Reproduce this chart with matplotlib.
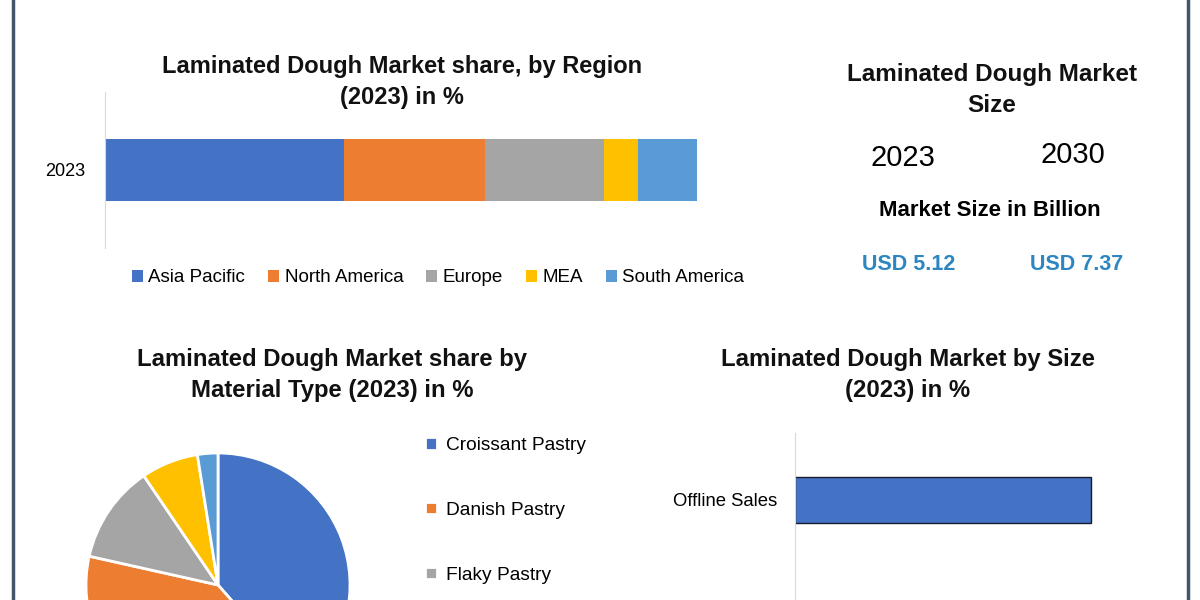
import matplotlib.pyplot as plt
from matplotlib.lines import Line2D

plt.rcParams['font.family'] = ['Liberation Sans', 'DejaVu Sans']

# region share (2023), %
regions = ['Asia Pacific', 'North America', 'Europe', 'MEA', 'South America']
region_share = [40.4, 23.8, 20.1, 5.7, 10.0]
region_colors = ['#4472C4', '#ED7D31', '#A5A5A5', '#FFC000', '#5B9BD5']

# material type share (2023), %
materials = ['Croissant Pastry', 'Danish Pastry', 'Flaky Pastry', 'Puff Pastry', 'Others']
material_share = [38.5, 40.0, 12.0, 7.0, 2.5]

# market by size (sales channel), %
channels = ['Online Sales', 'Offline Sales']
channel_share = [38, 62]

years = ['2023', '2030']
market_size = ['USD 5.12', 'USD 7.37']

W, H = 1200, 600


def px(x0, y0, x1, y1):
    return [x0 / W, 1 - y1 / H, (x1 - x0) / W, (y1 - y0) / H]


fig = plt.figure(figsize=(12, 6), dpi=100)
fig.patch.set_facecolor('white')

# frame lines left / right
fig.add_artist(Line2D([13 / W, 13 / W], [0, 1], color='#44546A', lw=2.5))
fig.add_artist(Line2D([1188 / W, 1188 / W], [0, 1], color='#44546A', lw=2.5))

title_kw = dict(ha='center', va='center', fontweight='bold', linespacing=1.45, color='#111111')

# ---- stacked bar by region ----
ax1 = fig.add_axes(px(105, 92, 756, 248))
left = 0
for name, val, c in zip(regions, region_share, region_colors):
    ax1.barh([0], [val], left=left, height=0.4, color=c, label=name)
    left += val
ax1.set_xlim(0, 110)
ax1.set_ylim(-0.5, 0.5)
ax1.set_yticks([0])
ax1.set_yticklabels(['2023'], fontsize=13)
ax1.tick_params(axis='y', length=0, pad=14)
ax1.set_xticks([])
for s in ['top', 'right', 'bottom']:
    ax1.spines[s].set_visible(False)
ax1.spines['left'].set_color('#d9d9d9')
ax1.legend(loc='center', bbox_to_anchor=(438 / W, 1 - 278 / H), bbox_transform=fig.transFigure,
           ncol=5, frameon=False, fontsize=13.5, handlelength=0.6, handleheight=0.6,
           handletextpad=0.3, columnspacing=1.2)
fig.text(402 / W, 1 - 82 / H, 'Laminated Dough Market share, by Region\n(2023) in %',
         fontsize=17, **title_kw)

# ---- market size panel ----
fig.text(992 / W, 1 - 90 / H, 'Laminated Dough Market\nSize', fontsize=17.5, **title_kw)
fig.text(903 / W, 1 - 158 / H, years[0], ha='center', va='center', fontsize=21)
fig.text(1073 / W, 1 - 155 / H, years[1], ha='center', va='center', fontsize=21)
fig.text(990 / W, 1 - 210 / H, 'Market Size in Billion', ha='center', va='center',
         fontsize=16, fontweight='bold')
fig.text(909 / W, 1 - 265 / H, market_size[0], ha='center', va='center', fontsize=15.5,
         fontweight='bold', color='#2E86C1')
fig.text(1077 / W, 1 - 265 / H, market_size[1], ha='center', va='center', fontsize=15.5,
         fontweight='bold', color='#2E86C1')

# ---- pie by material type ----
fig.text(332 / W, 1 - 375 / H, 'Laminated Dough Market share by\nMaterial Type (2023) in %',
         fontsize=17.2, **title_kw)
ax2 = fig.add_axes(px(86, 453, 350, 717))
wedges, _ = ax2.pie(material_share, colors=region_colors, startangle=90, counterclock=False,
                    wedgeprops=dict(edgecolor='white', linewidth=2))
ax2.set_xlim(-1, 1)
ax2.set_ylim(-1, 1)
ax2.set_aspect('equal')
# only the first three entries fit inside the picture
ax2.legend(wedges[:3], materials[:3], loc='upper left', bbox_to_anchor=(408 / W, 1 - 420 / H),
           bbox_transform=fig.transFigure, frameon=False, fontsize=13.8,
           handlelength=0.6, handleheight=0.6, handletextpad=0.5, labelspacing=2.5)

# ---- bar by size ----
fig.text(908 / W, 1 - 375 / H, 'Laminated Dough Market by Size\n(2023) in %',
         fontsize=17.2, **title_kw)
ax3 = fig.add_axes(px(795, 433, 1160, 700))
ax3.barh([0, 1], channel_share, height=0.345, color='#4472C4', edgecolor='#1a1a2e', linewidth=1)
ax3.set_xlim(0, 76.5)
ax3.set_ylim(-0.5, 1.5)
ax3.set_xticks([])
ax3.set_yticks([1])
ax3.set_yticklabels([channels[1]])
ax3.tick_params(axis='y', length=0, pad=13, labelsize=13.3)
for s in ['top', 'right', 'bottom']:
    ax3.spines[s].set_visible(False)
ax3.spines['left'].set_color('#d9d9d9')

fig.savefig('out.png', dpi=100)
